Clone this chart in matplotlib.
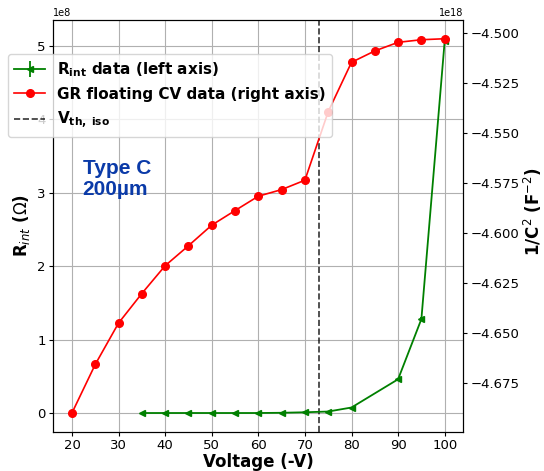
import matplotlib
matplotlib.use("Agg")
import matplotlib.pyplot as plt

# interstrip resistance vs bias (left axis)
v_rint = [35, 40, 45, 50, 55, 60, 65, 70, 75, 80, 90, 95, 100]
rint = [0.0, 0.0, 0.0, 0.0, 0.0, 0.0, 0.003, 0.01, 0.02, 0.075, 0.46, 1.28, 5.07]  # x1e8
rint_err = [0.0, 0.0, 0.0, 0.0, 0.0, 0.0, 0.0, 0.0, 0.0, 0.0, 0.01, 0.03, 0.03]  # x1e8

# GR floating CV, 1/C^2 (right axis)
v_cv = [20, 25, 30, 35, 40, 45, 50, 55, 60, 65, 70, 75, 80, 85, 90, 95, 100]
inv_c2 = [-4.6902, -4.6659, -4.6452, -4.6304, -4.6165, -4.6065, -4.5962, -4.5889,
          -4.5817, -4.5784, -4.5737, -4.5394, -4.5147, -4.5090, -4.5047, -4.5034,
          -4.5029]  # x1e18

v_th_iso = 73

fig = plt.figure(figsize=(5.44, 4.71), dpi=100)
ax = fig.add_axes([0.098, 0.0834, 0.7537, 0.8741])
ax2 = ax.twinx()

ax.errorbar(v_rint, [r * 1e8 for r in rint], yerr=[e * 1e8 for e in rint_err],
            fmt="<-", color="green", markersize=5, linewidth=1.3,
            label=r"R$_{\mathbf{int}}$ data (left axis)")
ax.axvline(v_th_iso, color="black", linestyle="--", linewidth=1.2, alpha=0.8,
           label=r"$\mathbf{V_{th,\ iso}}$")

ax2.plot(v_cv, [c * 1e18 for c in inv_c2], "o-", color="red", markersize=5.5,
         linewidth=1.2, label="GR floating CV data (right axis)")

ax.grid(True, color="#b0b0b0", linewidth=0.8)
ax.set_xticks(range(20, 101, 10))
for a in (ax, ax2):
    a.tick_params(labelsize=9.5, length=3, pad=2.5)
    a.yaxis.get_offset_text().set_fontsize(7)

ax.set_xlabel("Voltage (-V)", fontsize=12, fontweight="bold", labelpad=0.5)
ax.set_ylabel(r"R$_{int}$ ($\Omega$)", fontsize=12, fontweight="bold")
ax2.set_ylabel(r"1/C$^{2}$ (F$^{-2}$)", fontsize=12, fontweight="bold")
ax2.yaxis.set_label_coords(1.143, 0.535)

ax.text(0.0717, 0.663, "Type C\n200\u00b5m", transform=ax.transAxes,
        color="#0a3aa8", fontsize=15, fontweight="bold",
        family="Liberation Sans", va="top", linespacing=1.15)

h1, l1 = ax.get_legend_handles_labels()
h2, l2 = ax2.get_legend_handles_labels()
handles = [h1[1], h2[0], h1[0]]
labels = [l1[1], l2[0], l1[0]]
ax2.legend(handles, labels, loc="upper left", bbox_to_anchor=(-0.1098, 0.9167),
           borderaxespad=0, prop={"weight": "bold", "size": 11})

fig.savefig("out.png", dpi=100)
